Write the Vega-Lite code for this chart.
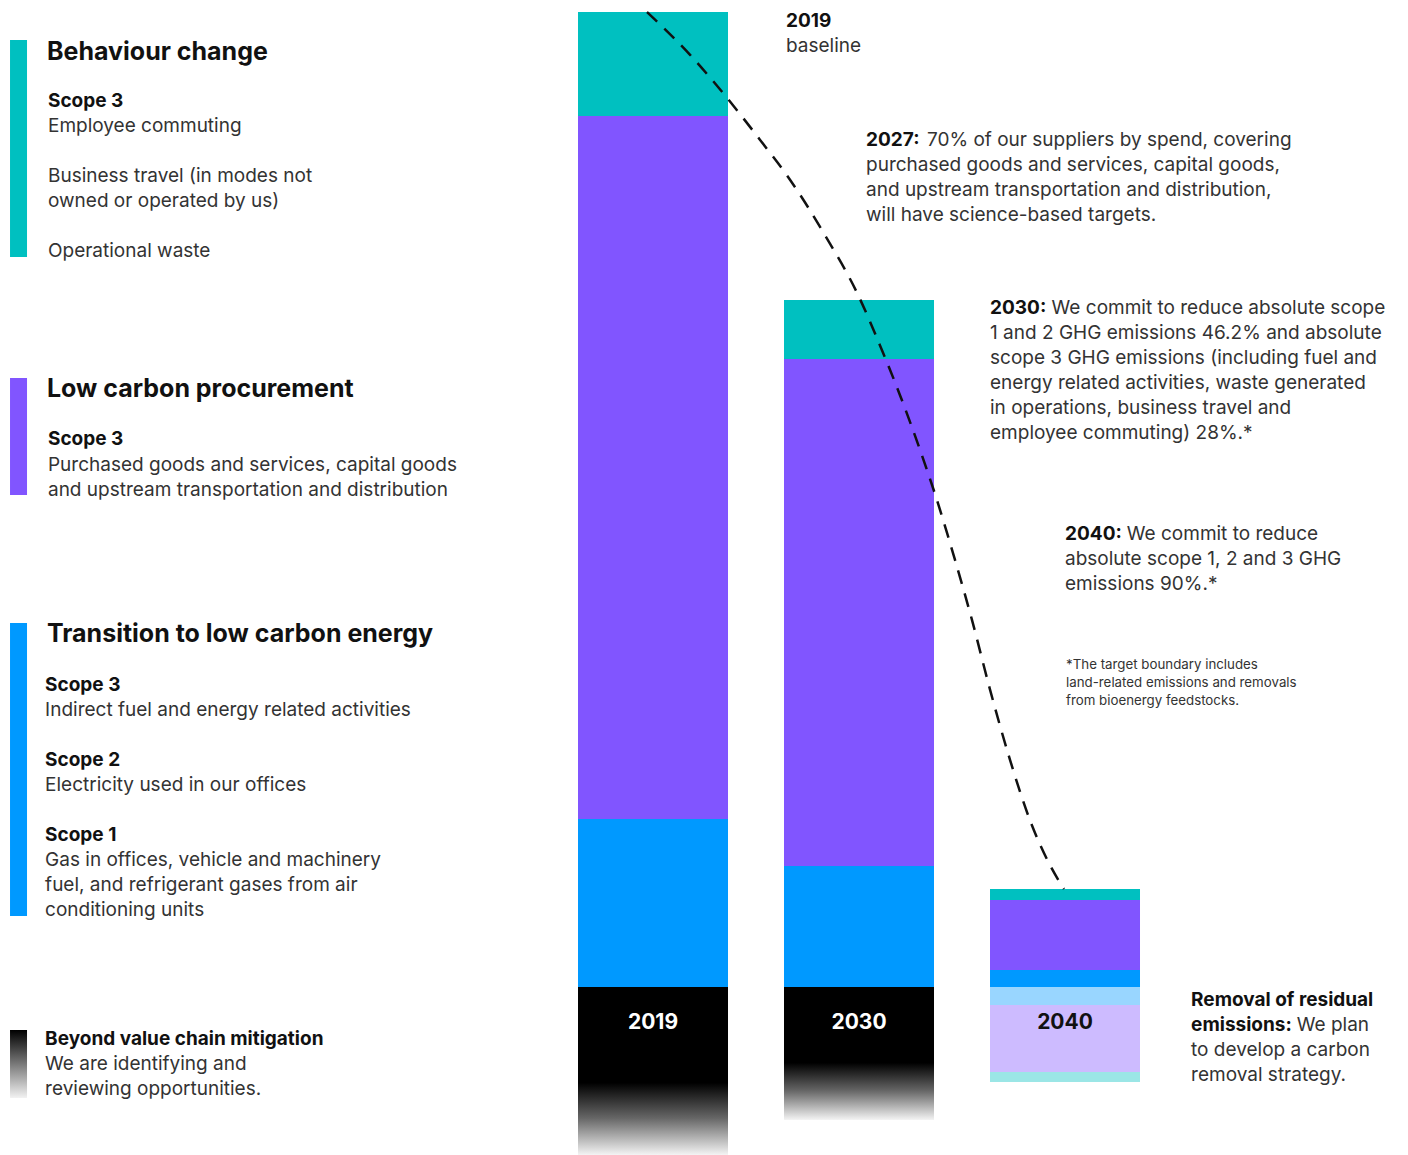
{
  "$schema": "https://vega.github.io/schema/vega-lite/v6.json",
  "width": 1408,
  "height": 1155,
  "autosize": {"type": "fit", "contains": "padding"},
  "padding": 0,
  "background": "white",
  "config": {"view": {"stroke": null}, "text": {"font": "Inter"}},
  "datasets": {
    "bars": [
      {"x": 1, "year": "2019", "segment": "Transition to low carbon energy", "rank": 1, "y": 17.23},
      {"x": 1, "year": "2019", "segment": "Low carbon procurement", "rank": 2, "y": 72.10},
      {"x": 1, "year": "2019", "segment": "Behaviour change", "rank": 3, "y": 10.67},
      {"x": 2, "year": "2030", "segment": "Transition to low carbon energy", "rank": 1, "y": 12.41},
      {"x": 2, "year": "2030", "segment": "Low carbon procurement", "rank": 2, "y": 52.00},
      {"x": 2, "year": "2030", "segment": "Behaviour change", "rank": 3, "y": 6.05},
      {"x": 3, "year": "2040", "segment": "Transition to low carbon energy", "rank": 1, "y": 1.74},
      {"x": 3, "year": "2040", "segment": "Low carbon procurement", "rank": 2, "y": 7.18},
      {"x": 3, "year": "2040", "segment": "Behaviour change", "rank": 3, "y": 1.13},
      {"x": 3, "year": "2040", "segment": "Removal: energy", "rank": 1, "y": -1.85},
      {"x": 3, "year": "2040", "segment": "Removal: procurement", "rank": 2, "y": -6.87},
      {"x": 3, "year": "2040", "segment": "Removal: behaviour", "rank": 3, "y": -1.03}
    ],
    "beyond": [
      {"x": 1, "year": "2019", "segment": "Beyond value chain mitigation", "y": -17.23},
      {"x": 2, "year": "2030", "segment": "Beyond value chain mitigation", "y": -13.64}
    ],
    "legend": [
      {"x": -2.08, "segment": "Behaviour change", "y": 97.13, "y2": 74.87},
      {"x": -2.08, "segment": "Low carbon procurement", "y": 62.46, "y2": 50.46},
      {"x": -2.08, "segment": "Transition to low carbon energy", "y": 37.33, "y2": 7.28}
    ],
    "legendBeyond": [
      {"x": -2.08, "segment": "Beyond value chain mitigation", "y": -4.41, "y2": -11.38}
    ],
    "curve": [
      {"x": 0.971, "y": 100.0},
      {"x": 1.180, "y": 95.6},
      {"x": 1.359, "y": 91.2},
      {"x": 1.519, "y": 86.9},
      {"x": 1.665, "y": 82.8},
      {"x": 1.835, "y": 77.1},
      {"x": 1.995, "y": 71.0},
      {"x": 2.102, "y": 65.8},
      {"x": 2.199, "y": 60.7},
      {"x": 2.296, "y": 55.1},
      {"x": 2.379, "y": 49.9},
      {"x": 2.466, "y": 43.8},
      {"x": 2.549, "y": 37.6},
      {"x": 2.636, "y": 30.5},
      {"x": 2.733, "y": 23.3},
      {"x": 2.830, "y": 17.1},
      {"x": 2.927, "y": 12.5},
      {"x": 2.995, "y": 10.05}
    ],
    "labels": [
      {"kind": "head", "x": -1.942, "y": 96.10, "text": "Behaviour change"},
      {"kind": "head", "x": -1.942, "y": 61.44, "text": "Low carbon procurement"},
      {"kind": "head", "x": -1.942, "y": 36.31, "text": "Transition to low carbon energy"},
      {"kind": "bold", "x": -1.937, "y": 90.97, "text": "Scope 3"},
      {"kind": "bold", "x": -1.937, "y": 56.31, "text": "Scope 3"},
      {"kind": "bold", "x": -1.951, "y": 31.08, "text": "Scope 3"},
      {"kind": "bold", "x": -1.951, "y": 23.38, "text": "Scope 2"},
      {"kind": "bold", "x": -1.951, "y": 15.69, "text": "Scope 1"},
      {"kind": "bold", "x": -1.951, "y": -5.23, "text": "Beyond value chain mitigation"},
      {"kind": "bold", "x": 1.6456, "y": 99.18, "text": "2019"},
      {"kind": "bold", "x": 2.034, "y": 86.97, "text": "2027:"},
      {"kind": "bold", "x": 2.636, "y": 69.74, "text": "2030:"},
      {"kind": "bold", "x": 3.0, "y": 46.56, "text": "2040:"},
      {"kind": "bold", "x": 3.612, "y": -1.23, "text": "Removal of residual"},
      {"kind": "bold", "x": 3.612, "y": -3.79, "text": "emissions:"},
      {"kind": "body", "x": -1.937, "y": 88.41, "text": "Employee commuting"},
      {"kind": "body", "x": -1.937, "y": 83.28, "text": "Business travel (in modes not"},
      {"kind": "body", "x": -1.937, "y": 80.72, "text": "owned or operated by us)"},
      {"kind": "body", "x": -1.937, "y": 75.59, "text": "Operational waste"},
      {"kind": "body", "x": -1.937, "y": 53.64, "text": "Purchased goods and services, capital goods"},
      {"kind": "body", "x": -1.937, "y": 51.08, "text": "and upstream transportation and distribution"},
      {"kind": "body", "x": -1.951, "y": 28.51, "text": "Indirect fuel and energy related activities"},
      {"kind": "body", "x": -1.951, "y": 20.82, "text": "Electricity used in our offices"},
      {"kind": "body", "x": -1.951, "y": 13.13, "text": "Gas in offices, vehicle and machinery"},
      {"kind": "body", "x": -1.951, "y": 10.56, "text": "fuel, and refrigerant gases from air"},
      {"kind": "body", "x": -1.951, "y": 8.00, "text": "conditioning units"},
      {"kind": "body", "x": -1.951, "y": -7.79, "text": "We are identifying and"},
      {"kind": "body", "x": -1.951, "y": -10.36, "text": "reviewing opportunities."},
      {"kind": "body", "x": 1.6456, "y": 96.62, "text": "baseline"},
      {"kind": "body", "x": 2.33, "y": 86.97, "text": "70% of our suppliers by spend, covering"},
      {"kind": "body", "x": 2.034, "y": 84.41, "text": "purchased goods and services, capital goods,"},
      {"kind": "body", "x": 2.034, "y": 81.85, "text": "and upstream transportation and distribution,"},
      {"kind": "body", "x": 2.034, "y": 79.28, "text": "will have science-based targets."},
      {"kind": "body", "x": 2.935, "y": 69.74, "text": "We commit to reduce absolute scope"},
      {"kind": "body", "x": 2.636, "y": 67.18, "text": "1 and 2 GHG emissions 46.2% and absolute"},
      {"kind": "body", "x": 2.636, "y": 64.62, "text": "scope 3 GHG emissions (including fuel and"},
      {"kind": "body", "x": 2.636, "y": 62.05, "text": "energy related activities, waste generated"},
      {"kind": "body", "x": 2.636, "y": 59.49, "text": "in operations, business travel and"},
      {"kind": "body", "x": 2.636, "y": 56.92, "text": "employee commuting) 28%.*"},
      {"kind": "body", "x": 3.3, "y": 46.56, "text": "We commit to reduce"},
      {"kind": "body", "x": 3.0, "y": 44.00, "text": "absolute scope 1, 2 and 3 GHG"},
      {"kind": "body", "x": 3.0, "y": 41.44, "text": "emissions 90%.*"},
      {"kind": "body", "x": 4.125, "y": -3.79, "text": "We plan"},
      {"kind": "body", "x": 3.612, "y": -6.36, "text": "to develop a carbon"},
      {"kind": "body", "x": 3.612, "y": -8.92, "text": "removal strategy."},
      {"kind": "foot", "x": 3.005, "y": 33.13, "text": "*The target boundary includes"},
      {"kind": "foot", "x": 3.005, "y": 31.28, "text": "land-related emissions and removals"},
      {"kind": "foot", "x": 3.005, "y": 29.44, "text": "from bioenergy feedstocks."},
      {"kind": "barWhite", "x": 1, "y": -3.49, "text": "2019"},
      {"kind": "barWhite", "x": 2, "y": -3.49, "text": "2030"},
      {"kind": "barDark", "x": 3, "y": -3.49, "text": "2040"}
    ]
  },
  "encoding": {
    "x": {"field": "x", "type": "quantitative", "scale": {"domain": [-2.1699, 4.665], "nice": false, "zero": false, "padding": 0}, "axis": null},
    "y": {"field": "y", "type": "quantitative", "scale": {"domain": [-17.231, 101.231], "nice": false, "zero": false, "padding": 0}, "axis": null}
  },
  "layer": [
    {
      "data": {"name": "bars"},
      "mark": {"type": "bar", "width": 150},
      "encoding": {
        "y": {"field": "y", "type": "quantitative", "stack": "zero", "scale": {"domain": [-17.231, 101.231], "nice": false, "zero": false, "padding": 0}, "axis": null},
        "order": {"field": "rank", "type": "quantitative"},
        "color": {
          "field": "segment", "type": "nominal", "legend": null,
          "scale": {
            "domain": ["Transition to low carbon energy", "Low carbon procurement", "Behaviour change", "Removal: energy", "Removal: procurement", "Removal: behaviour"],
            "range": ["#0099FF", "#8155FF", "#00C0C0", "#99D6FF", "#CDBBFF", "#9BE6E6"]
          }
        }
      }
    },
    {
      "data": {"name": "beyond"},
      "mark": {
        "type": "bar", "width": 150,
        "fill": {"gradient": "linear", "x1": 0, "y1": 0, "x2": 0, "y2": 1,
          "stops": [{"offset": 0, "color": "#000000"}, {"offset": 0.57, "color": "#000000"}, {"offset": 0.78, "color": "#666666"}, {"offset": 1, "color": "#f4f4f4"}]}
      },
      "encoding": {"y2": {"datum": 0}}
    },
    {
      "data": {"name": "legend"},
      "mark": {"type": "bar", "width": 17},
      "encoding": {
        "y2": {"field": "y2"},
        "color": {"field": "segment", "type": "nominal", "legend": null}
      }
    },
    {
      "data": {"name": "legendBeyond"},
      "mark": {
        "type": "bar", "width": 17,
        "fill": {"gradient": "linear", "x1": 0, "y1": 0, "x2": 0, "y2": 1,
          "stops": [{"offset": 0, "color": "#000000"}, {"offset": 1, "color": "#f2f2f2"}]}
      },
      "encoding": {"y2": {"field": "y2"}}
    },
    {
      "mark": {"type": "rule", "stroke": "#555555", "strokeWidth": 2},
      "encoding": {
        "x": {"datum": 0.5825, "type": "quantitative"},
        "x2": {"datum": 3.403},
        "y": {"datum": 0, "type": "quantitative"}
      }
    },
    {
      "data": {"name": "curve"},
      "mark": {"type": "line", "color": "#111111", "strokeWidth": 2.5, "strokeDash": [14, 10], "interpolate": "monotone"},
      "encoding": {}
    },
    {
      "data": {"name": "labels"},
      "transform": [{"filter": "datum.kind === 'head'"}],
      "mark": {"type": "text", "align": "left", "baseline": "middle", "dy": 1.5, "fontSize": 25, "fontWeight": "bold", "color": "#111111"},
      "encoding": {"text": {"field": "text"}}
    },
    {
      "data": {"name": "labels"},
      "transform": [{"filter": "datum.kind === 'bold'"}],
      "mark": {"type": "text", "align": "left", "baseline": "middle", "dy": 1.2, "fontSize": 19, "fontWeight": "bold", "color": "#111111"},
      "encoding": {"text": {"field": "text"}}
    },
    {
      "data": {"name": "labels"},
      "transform": [{"filter": "datum.kind === 'body'"}],
      "mark": {"type": "text", "align": "left", "baseline": "middle", "dy": 1.2, "fontSize": 19, "color": "#333333"},
      "encoding": {"text": {"field": "text"}}
    },
    {
      "data": {"name": "labels"},
      "transform": [{"filter": "datum.kind === 'foot'"}],
      "mark": {"type": "text", "align": "left", "baseline": "middle", "dy": 1, "fontSize": 13.3, "color": "#333333"},
      "encoding": {"text": {"field": "text"}}
    },
    {
      "data": {"name": "labels"},
      "transform": [{"filter": "datum.kind === 'barWhite'"}],
      "mark": {"type": "text", "align": "center", "baseline": "middle", "dy": 2, "fontSize": 21, "fontWeight": "bold", "color": "#ffffff"},
      "encoding": {"text": {"field": "text"}}
    },
    {
      "data": {"name": "labels"},
      "transform": [{"filter": "datum.kind === 'barDark'"}],
      "mark": {"type": "text", "align": "center", "baseline": "middle", "dy": 2, "fontSize": 21, "fontWeight": "bold", "color": "#111111"},
      "encoding": {"text": {"field": "text"}}
    }
  ]
}
